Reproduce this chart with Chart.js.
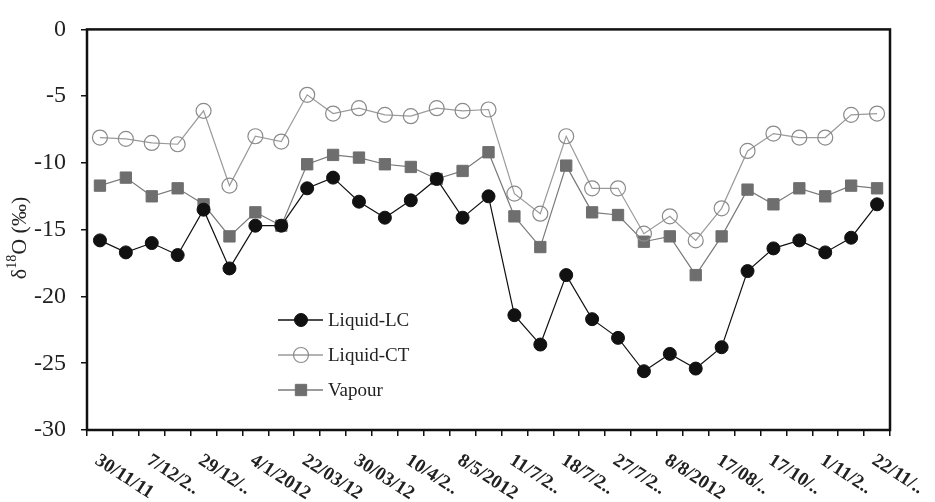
<!DOCTYPE html>
<html>
<head>
<meta charset="utf-8">
<script src="https://cdn.jsdelivr.net/npm/chart.js@4.4.0/dist/chart.umd.min.js"></script>
<style>
  html, body { margin: 0; padding: 0; background: #fff; }
</style>
</head>
<body>
<canvas id="output" width="935" height="502"></canvas>
<script>
// sampling dates, only every second one gets a label on the axis
var dateLabels = ['30/11/11', '', '7/12/2..', '', '29/12/..', '', '4/1/2012', '', '22/03/12', '',
  '30/03/12', '', '10/4/2..', '', '8/5/2012', '', '11/7/2..', '', '18/7/2..', '', '27/7/2..', '',
  '8/8/2012', '', '17/08/..', '', '17/10/..', '', '1/11/2..', '', '22/11/..'];

// delta 18O in per mil
var liquidLC = [-15.8, -16.7, -16.0, -16.9, -13.5, -17.9, -14.7, -14.7, -11.9, -11.1, -12.9, -14.1, -12.8, -11.2, -14.1, -12.5,
  -21.4, -23.6, -18.4, -21.7, -23.1, -25.6, -24.3, -25.4, -23.8, -18.1, -16.4, -15.8, -16.7, -15.6, -13.1];
var liquidCT = [-8.1, -8.2, -8.5, -8.6, -6.1, -11.7, -8.0, -8.4, -4.9, -6.3, -5.9, -6.4, -6.5, -5.9, -6.1, -6.0,
  -12.3, -13.8, -8.0, -11.9, -11.9, -15.3, -14.0, -15.8, -13.4, -9.1, -7.8, -8.1, -8.1, -6.4, -6.3];
var vapour = [-11.7, -11.1, -12.5, -11.9, -13.1, -15.5, -13.7, -14.7, -10.1, -9.4, -9.6, -10.1, -10.3, -11.2, -10.6, -9.2,
  -14.0, -16.3, -10.2, -13.7, -13.9, -15.9, -15.5, -18.4, -15.5, -12.0, -13.1, -11.9, -12.5, -11.7, -11.9];

var yTicks = { min: -30, max: 0, step: 5 };
var serif = '"Liberation Serif", "Times New Roman", serif';

// frame, slanted date labels, axis title and legend
var decorations = {
  id: 'decorations',
  afterDraw: function(chart) {
    var ctx = chart.ctx;
    var area = chart.chartArea;
    var xs = chart.scales.x;

    ctx.save();
    ctx.strokeStyle = '#111';
    ctx.lineWidth = 2.5;
    ctx.strokeRect(area.left, area.top, area.right - area.left, area.bottom - area.top);

    // date labels running down to the right
    ctx.fillStyle = '#222';
    ctx.font = 'bold 19px ' + serif;
    ctx.textAlign = 'left';
    ctx.textBaseline = 'alphabetic';
    dateLabels.forEach(function(lab, i) {
      if (!lab) return;
      var px = xs.getPixelForValue(i);
      ctx.save();
      ctx.translate(px - 6, area.bottom + 33);
      ctx.rotate(33 * Math.PI / 180);
      ctx.fillText(lab, 0, 0);
      ctx.restore();
    });

    // y title with superscript
    ctx.save();
    ctx.translate(20, 238);
    ctx.rotate(-Math.PI / 2);
    var parts = [['δ', 22, 0], ['18', 14, -8], ['O (‰)', 22, 0]];
    var w = 0;
    parts.forEach(function(p) { ctx.font = p[1] + 'px ' + serif; w += ctx.measureText(p[0]).width; });
    var cx = -w / 2;
    ctx.textBaseline = 'middle';
    parts.forEach(function(p) {
      ctx.font = p[1] + 'px ' + serif;
      ctx.fillText(p[0], cx, p[2]);
      cx += ctx.measureText(p[0]).width;
    });
    ctx.restore();

    // legend
    var lx = 278, ly = 320, gap = 35;
    chart.data.datasets.forEach(function(ds, i) {
      var y = ly + i * gap;
      ctx.strokeStyle = ds.borderColor;
      ctx.lineWidth = 1.5;
      ctx.beginPath();
      ctx.moveTo(lx, y);
      ctx.lineTo(lx + 45, y);
      ctx.stroke();
      ctx.fillStyle = ds.pointBackgroundColor;
      ctx.strokeStyle = ds.pointBorderColor;
      ctx.lineWidth = ds.pointBorderWidth;
      ctx.beginPath();
      if (ds.pointStyle === 'rect') {
        var s = ds.pointRadius * Math.SQRT1_2;
        ctx.rect(lx + 23 - s, y - s, 2 * s, 2 * s);
      } else {
        ctx.arc(lx + 23, y, ds.pointRadius, 0, Math.PI * 2);
      }
      ctx.fill();
      ctx.stroke();
      ctx.fillStyle = '#222';
      ctx.font = '19px ' + serif;
      ctx.textBaseline = 'middle';
      ctx.fillText(ds.label, lx + 50, y + 1);
    });
    ctx.restore();
  }
};

var ctx = document.getElementById('output').getContext('2d');
var chart = new Chart(ctx, {
  type: 'line',
  data: {
    labels: dateLabels,
    datasets: [{
      label: 'Liquid-LC',
      data: liquidLC,
      borderColor: '#111',
      borderWidth: 1.2,
      pointStyle: 'circle',
      pointRadius: 6.5,
      pointBackgroundColor: '#111',
      pointBorderColor: '#111',
      pointBorderWidth: 1
    }, {
      label: 'Liquid-CT',
      data: liquidCT,
      borderColor: '#9a9a9a',
      borderWidth: 1.2,
      pointStyle: 'circle',
      pointRadius: 7.5,
      pointBackgroundColor: 'rgba(255,255,255,0)',
      pointBorderColor: '#8a8a8a',
      pointBorderWidth: 1.2
    }, {
      label: 'Vapour',
      data: vapour,
      borderColor: '#7a7a7a',
      borderWidth: 1.2,
      pointStyle: 'rect',
      pointRadius: 8,
      pointBackgroundColor: '#6e6e6e',
      pointBorderColor: '#6e6e6e',
      pointBorderWidth: 1
    }]
  },
  options: {
    responsive: false,
    animation: false,
    layout: { padding: { top: 21, right: 45, left: 0, bottom: 0 } },
    elements: { line: { tension: 0 } },
    plugins: { legend: { display: false }, tooltip: { enabled: false } },
    scales: {
      x: {
        offset: true,
        grid: { offset: true, drawOnChartArea: false, drawTicks: true, tickLength: 6, color: '#111', lineWidth: 1.5 },
        border: { display: false },
        ticks: { display: false },
        afterFit: function(s) { s.height = 72; }
      },
      y: {
        min: yTicks.min,
        max: yTicks.max,
        ticks: { stepSize: yTicks.step, color: '#222', padding: 15, font: { family: serif, size: 24 } },
        grid: { drawOnChartArea: false, tickLength: 6, color: '#111', lineWidth: 1.5 },
        border: { display: false },
        afterFit: function(s) { s.width = 87; }
      }
    }
  },
  plugins: [decorations]
});
</script>
</body>
</html>
